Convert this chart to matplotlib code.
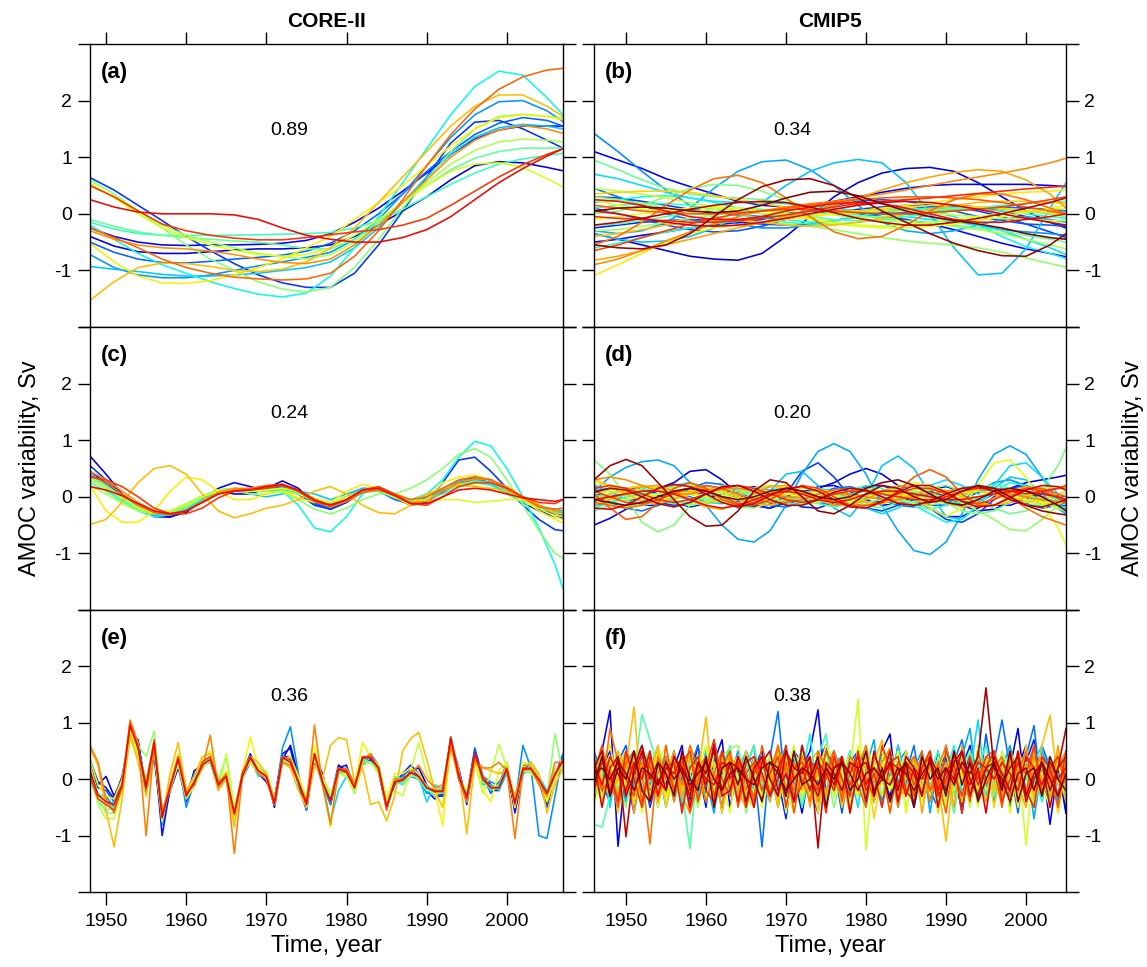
import matplotlib.pyplot as plt
import numpy as np

plt.rcParams['font.family'] = ['Liberation Sans', 'DejaVu Sans']

# ---- sampling years ----
core_years_a = [1948, 1951, 1954, 1957, 1960, 1963, 1966, 1969, 1972, 1975, 1978,
                1981, 1984, 1987, 1990, 1993, 1996, 1999, 2002, 2005, 2007]
cmip_years_b = [1946, 1949, 1952, 1955, 1958, 1961, 1964, 1967, 1970, 1973, 1976,
                1979, 1982, 1985, 1988, 1991, 1994, 1997, 2000, 2003, 2005]
core_years_c = list(range(1948, 2007, 2)) + [2007]
cmip_years_d = list(range(1946, 2005, 2)) + [2005]
core_years_e = list(range(1948, 2008))
cmip_years_f = list(range(1946, 2006))

# ---- (a) CORE-II low-pass (trend) ----
core_a = [
    [-0.40, -0.57, -0.67, -0.70, -0.70, -0.67, -0.64, -0.62, -0.62, -0.60, -0.55, -0.40, -0.20, 0.05, 0.30, 0.60, 0.85, 0.92, 0.90, 0.82, 0.76],
    [-0.25, -0.40, -0.50, -0.55, -0.56, -0.55, -0.55, -0.54, -0.52, -0.47, -0.35, -0.15, 0.10, 0.40, 0.72, 1.05, 1.32, 1.48, 1.55, 1.55, 1.55],
    [0.64, 0.42, 0.15, -0.12, -0.40, -0.65, -0.88, -1.08, -1.22, -1.30, -1.30, -1.05, -0.55, 0.05, 0.65, 1.25, 1.62, 1.65, 1.50, 1.30, 1.16],
    [-0.50, -0.68, -0.80, -0.86, -0.87, -0.84, -0.80, -0.77, -0.73, -0.66, -0.52, -0.30, 0.00, 0.35, 0.75, 1.10, 1.40, 1.60, 1.70, 1.65, 1.55],
    [-0.72, -0.95, -1.08, -1.13, -1.13, -1.08, -1.00, -0.92, -0.85, -0.77, -0.68, -0.45, -0.10, 0.35, 0.85, 1.35, 1.75, 1.98, 2.00, 1.82, 1.63],
    [-0.93, -0.98, -1.02, -1.07, -1.10, -1.10, -1.08, -1.05, -1.00, -0.95, -0.85, -0.60, -0.25, 0.20, 0.65, 1.05, 1.35, 1.52, 1.58, 1.55, 1.50],
    [-0.20, -0.45, -0.70, -0.90, -1.05, -1.20, -1.32, -1.42, -1.47, -1.40, -1.10, -0.60, -0.05, 0.55, 1.15, 1.75, 2.25, 2.52, 2.45, 2.05, 1.75],
    [-0.15, -0.27, -0.35, -0.38, -0.38, -0.38, -0.38, -0.37, -0.36, -0.35, -0.33, -0.25, -0.12, 0.08, 0.30, 0.52, 0.72, 0.88, 0.97, 1.03, 1.07],
    [-0.10, -0.22, -0.32, -0.38, -0.42, -0.45, -0.48, -0.50, -0.55, -0.62, -0.62, -0.45, -0.15, 0.20, 0.50, 0.78, 0.98, 1.10, 1.16, 1.16, 1.16],
    [0.60, 0.35, 0.05, -0.25, -0.55, -0.80, -1.00, -1.20, -1.33, -1.38, -1.30, -0.95, -0.45, 0.10, 0.60, 1.10, 1.50, 1.72, 1.76, 1.72, 1.69],
    [0.50, 0.30, 0.05, -0.20, -0.38, -0.50, -0.60, -0.70, -0.76, -0.80, -0.72, -0.50, -0.20, 0.20, 0.55, 0.88, 1.12, 1.27, 1.32, 1.30, 1.27],
    [0.55, 0.28, 0.00, -0.25, -0.42, -0.55, -0.65, -0.72, -0.75, -0.72, -0.60, -0.38, -0.10, 0.20, 0.50, 0.75, 0.88, 0.90, 0.82, 0.62, 0.48],
    [-0.52, -0.85, -1.10, -1.22, -1.23, -1.18, -1.08, -0.95, -0.80, -0.60, -0.40, -0.10, 0.20, 0.50, 0.85, 1.20, 1.50, 1.70, 1.75, 1.72, 1.66],
    [-1.53, -1.20, -0.95, -0.87, -0.88, -0.93, -1.00, -1.02, -0.98, -0.85, -0.60, -0.25, 0.20, 0.65, 1.10, 1.55, 1.90, 2.10, 2.10, 1.90, 1.72],
    [-0.30, -0.45, -0.55, -0.60, -0.62, -0.66, -0.72, -0.80, -0.86, -0.88, -0.80, -0.55, -0.20, 0.20, 0.60, 1.00, 1.30, 1.48, 1.56, 1.50, 1.42],
    [-0.25, -0.42, -0.60, -0.80, -0.95, -1.05, -1.12, -1.15, -1.17, -1.15, -1.05, -0.75, -0.30, 0.25, 0.85, 1.40, 1.85, 2.20, 2.42, 2.54, 2.57],
    [0.50, 0.30, 0.05, -0.18, -0.30, -0.38, -0.43, -0.46, -0.46, -0.42, -0.37, -0.32, -0.28, -0.20, -0.08, 0.15, 0.40, 0.65, 0.87, 1.05, 1.15],
    [0.25, 0.12, 0.03, 0.00, 0.00, 0.00, -0.02, -0.10, -0.25, -0.38, -0.45, -0.50, -0.50, -0.42, -0.28, -0.05, 0.25, 0.55, 0.80, 1.02, 1.15],
]

# ---- (b) CMIP5 low-pass (trend) ----
cmip_b = [
    [-0.35, -0.45, -0.55, -0.65, -0.75, -0.80, -0.82, -0.70, -0.40, -0.05, 0.30, 0.55, 0.72, 0.80, 0.82, 0.75, 0.55, 0.30, 0.05, -0.15, -0.25],
    [1.10, 0.95, 0.80, 0.62, 0.48, 0.35, 0.22, 0.15, 0.12, 0.15, 0.22, 0.30, 0.38, 0.45, 0.50, 0.52, 0.52, 0.52, 0.52, 0.50, 0.48],
    [-0.50, -0.45, -0.38, -0.32, -0.25, -0.20, -0.15, -0.10, -0.05, 0.00, 0.02, 0.00, -0.05, -0.10, -0.18, -0.28, -0.40, -0.52, -0.62, -0.70, -0.76],
    [-0.25, -0.20, -0.15, -0.12, -0.10, -0.12, -0.15, -0.18, -0.20, -0.18, -0.12, -0.05, 0.02, 0.08, 0.12, 0.15, 0.12, 0.05, -0.05, -0.15, -0.22],
    [0.30, 0.28, 0.22, 0.15, 0.08, 0.02, -0.02, -0.05, -0.05, -0.02, 0.02, 0.08, 0.12, 0.15, 0.15, 0.12, 0.05, -0.05, -0.18, -0.32, -0.42],
    [0.10, 0.00, -0.10, -0.20, -0.28, -0.32, -0.30, -0.22, -0.10, 0.05, 0.15, 0.22, 0.25, 0.22, 0.15, 0.05, -0.05, -0.12, -0.18, -0.20, -0.22],
    [0.45, 0.30, 0.15, 0.00, -0.10, -0.15, -0.12, -0.05, 0.02, 0.05, 0.05, 0.02, 0.00, 0.02, 0.05, 0.08, 0.10, 0.12, 0.10, 0.08, 0.05],
    [1.42, 1.10, 0.75, 0.42, 0.15, -0.05, -0.18, -0.25, -0.25, -0.20, -0.12, -0.05, 0.00, 0.00, -0.05, -0.12, -0.20, -0.28, -0.32, -0.35, -0.38],
    [-0.30, -0.35, -0.30, -0.15, 0.10, 0.45, 0.75, 0.92, 0.95, 0.78, 0.50, 0.15, -0.15, -0.30, -0.35, -0.30, -0.20, -0.10, -0.05, -0.10, -0.15],
    [-0.35, -0.45, -0.50, -0.48, -0.40, -0.25, -0.05, 0.20, 0.50, 0.75, 0.90, 0.96, 0.90, 0.55, 0.00, -0.60, -1.08, -1.05, -0.62, 0.10, 0.55],
    [0.70, 0.62, 0.50, 0.38, 0.28, 0.22, 0.20, 0.20, 0.18, 0.15, 0.10, 0.05, 0.00, -0.05, -0.10, -0.15, -0.20, -0.30, -0.45, -0.60, -0.72],
    [0.20, 0.25, 0.30, 0.32, 0.28, 0.20, 0.10, 0.00, -0.10, -0.15, -0.12, -0.05, 0.05, 0.10, 0.05, -0.05, -0.20, -0.40, -0.58, -0.70, -0.79],
    [-0.60, -0.52, -0.42, -0.32, -0.25, -0.18, -0.12, -0.08, -0.05, -0.02, 0.00, 0.02, 0.05, 0.08, 0.10, 0.10, 0.08, 0.05, 0.00, -0.05, -0.08],
    [0.10, 0.15, 0.18, 0.18, 0.15, 0.08, 0.00, -0.08, -0.15, -0.18, -0.18, -0.15, -0.10, -0.05, 0.00, 0.05, 0.10, 0.15, 0.18, 0.20, 0.22],
    [-0.20, -0.18, -0.12, -0.05, 0.02, 0.08, 0.10, 0.08, 0.02, -0.05, -0.10, -0.12, -0.10, -0.05, 0.02, 0.08, 0.12, 0.10, 0.05, 0.00, -0.05],
    [0.95, 0.78, 0.60, 0.45, 0.35, 0.30, 0.28, 0.25, 0.20, 0.12, 0.05, -0.02, -0.08, -0.12, -0.15, -0.20, -0.25, -0.30, -0.38, -0.45, -0.50],
    [0.00, 0.05, 0.15, 0.30, 0.45, 0.52, 0.50, 0.40, 0.25, 0.10, 0.00, -0.05, -0.05, 0.00, 0.05, 0.10, 0.12, 0.10, 0.05, 0.00, -0.05],
    [0.30, 0.25, 0.18, 0.10, 0.02, -0.05, -0.10, -0.15, -0.18, -0.22, -0.28, -0.35, -0.42, -0.48, -0.52, -0.55, -0.60, -0.68, -0.78, -0.88, -0.94],
    [-0.30, -0.28, -0.22, -0.15, -0.08, -0.02, 0.02, 0.05, 0.05, 0.02, -0.02, -0.08, -0.12, -0.15, -0.18, -0.22, -0.28, -0.35, -0.45, -0.55, -0.62],
    [0.45, 0.40, 0.35, 0.28, 0.20, 0.12, 0.05, 0.00, -0.02, -0.02, 0.00, 0.02, 0.05, 0.05, 0.02, -0.02, -0.05, -0.08, -0.10, -0.12, -0.12],
    [0.25, 0.15, 0.08, 0.05, 0.05, 0.08, 0.10, 0.05, 0.00, -0.08, -0.15, -0.20, -0.22, -0.20, -0.15, -0.10, -0.05, 0.00, 0.05, 0.08, 0.10],
    [-0.10, -0.05, 0.00, 0.05, 0.10, 0.12, 0.10, 0.05, -0.02, -0.10, -0.18, -0.22, -0.25, -0.25, -0.22, -0.18, -0.12, -0.05, 0.02, 0.10, 0.15],
    [-1.09, -0.90, -0.70, -0.50, -0.35, -0.25, -0.20, -0.15, -0.10, -0.05, 0.00, 0.05, 0.10, 0.15, 0.20, 0.25, 0.30, 0.35, 0.38, 0.40, 0.42],
    [0.35, 0.38, 0.40, 0.40, 0.38, 0.32, 0.25, 0.18, 0.12, 0.08, 0.05, 0.05, 0.08, 0.12, 0.15, 0.15, 0.12, 0.08, 0.05, 0.02, 0.00],
    [-0.40, -0.35, -0.28, -0.20, -0.15, -0.12, -0.12, -0.15, -0.20, -0.22, -0.20, -0.15, -0.08, 0.00, 0.08, 0.15, 0.20, 0.22, 0.22, 0.20, 0.18],
    [-0.82, -0.75, -0.65, -0.55, -0.45, -0.35, -0.25, -0.15, -0.05, 0.05, 0.15, 0.28, 0.42, 0.55, 0.65, 0.73, 0.78, 0.75, 0.60, 0.35, 0.10],
    [-0.90, -0.80, -0.65, -0.48, -0.32, -0.18, -0.05, 0.05, 0.12, 0.18, 0.22, 0.28, 0.35, 0.42, 0.50, 0.58, 0.65, 0.72, 0.80, 0.90, 0.98],
    [-0.55, -0.40, -0.15, 0.15, 0.42, 0.62, 0.68, 0.55, 0.28, -0.05, -0.32, -0.44, -0.40, -0.20, 0.05, 0.25, 0.35, 0.35, 0.25, 0.10, 0.00],
    [0.15, 0.10, 0.05, 0.02, 0.00, 0.00, 0.02, 0.05, 0.10, 0.15, 0.20, 0.25, 0.28, 0.30, 0.30, 0.28, 0.25, 0.20, 0.12, 0.05, 0.00],
    [-0.65, -0.55, -0.42, -0.30, -0.18, -0.08, 0.00, 0.05, 0.08, 0.08, 0.05, 0.02, 0.00, 0.00, 0.02, 0.05, 0.08, 0.12, 0.18, 0.25, 0.30],
    [-0.05, -0.08, -0.10, -0.12, -0.15, -0.15, -0.12, -0.08, -0.02, 0.05, 0.12, 0.18, 0.22, 0.25, 0.28, 0.32, 0.36, 0.40, 0.44, 0.47, 0.49],
    [0.25, 0.22, 0.15, 0.05, -0.05, -0.10, -0.10, -0.05, 0.05, 0.12, 0.18, 0.20, 0.18, 0.10, 0.00, -0.10, -0.15, -0.15, -0.10, -0.05, 0.00],
    [0.05, 0.00, -0.08, -0.15, -0.20, -0.22, -0.20, -0.15, -0.08, 0.00, 0.08, 0.15, 0.20, 0.22, 0.20, 0.15, 0.08, 0.00, -0.08, -0.15, -0.20],
    [-0.20, -0.15, -0.08, 0.00, 0.08, 0.15, 0.20, 0.22, 0.20, 0.12, 0.02, -0.08, -0.15, -0.20, -0.20, -0.15, -0.08, 0.00, 0.10, 0.20, 0.28],
    [-0.55, -0.60, -0.62, -0.55, -0.35, -0.05, 0.25, 0.48, 0.60, 0.62, 0.50, 0.28, 0.05, -0.15, -0.35, -0.52, -0.65, -0.74, -0.75, -0.55, -0.35],
    [0.05, 0.10, 0.12, 0.10, 0.05, 0.02, 0.05, 0.15, 0.28, 0.38, 0.40, 0.32, 0.18, 0.05, -0.05, -0.12, -0.18, -0.25, -0.35, -0.42, -0.45],
]

# ---- (c) CORE-II band-pass (decadal) ----
core_c = [
    [0.72, 0.40, 0.05, -0.22, -0.33, -0.35, -0.28, -0.05, 0.10, 0.05, 0.05, 0.15, 0.28, 0.15, -0.12, -0.22, -0.10, 0.10, 0.15, 0.00, -0.12, -0.05, 0.10, 0.25, 0.30, 0.25, 0.10, -0.10, -0.25, -0.35, -0.38],
    [0.45, 0.25, 0.00, -0.20, -0.35, -0.36, -0.25, -0.05, 0.15, 0.25, 0.18, 0.10, 0.12, 0.05, -0.10, -0.18, -0.08, 0.08, 0.12, 0.02, -0.10, -0.08, 0.08, 0.25, 0.35, 0.30, 0.15, -0.05, -0.20, -0.30, -0.32],
    [0.55, 0.30, 0.05, -0.18, -0.30, -0.32, -0.22, -0.05, 0.08, 0.12, 0.12, 0.15, 0.18, 0.05, -0.15, -0.22, -0.08, 0.10, 0.12, -0.02, -0.15, -0.10, 0.25, 0.65, 0.70, 0.45, 0.15, -0.15, -0.40, -0.58, -0.60],
    [0.40, 0.22, 0.00, -0.20, -0.32, -0.30, -0.18, 0.00, 0.10, 0.10, 0.08, 0.12, 0.15, 0.05, -0.12, -0.20, -0.05, 0.12, 0.10, -0.05, -0.12, -0.05, 0.10, 0.22, 0.28, 0.22, 0.10, -0.08, -0.22, -0.30, -0.32],
    [0.30, 0.15, -0.05, -0.22, -0.30, -0.28, -0.15, 0.00, 0.08, 0.12, 0.10, 0.12, 0.18, 0.10, -0.05, -0.12, 0.00, 0.15, 0.12, 0.00, -0.10, -0.05, 0.12, 0.28, 0.32, 0.25, 0.10, -0.08, -0.20, -0.25, -0.28],
    [0.35, 0.20, 0.00, -0.20, -0.32, -0.32, -0.22, -0.05, 0.08, 0.12, 0.05, 0.00, 0.05, 0.10, 0.05, -0.05, 0.05, 0.15, 0.15, 0.00, -0.08, -0.02, 0.15, 0.28, 0.30, 0.22, 0.08, -0.08, -0.18, -0.22, -0.25],
    [0.40, 0.20, -0.05, -0.25, -0.35, -0.32, -0.20, -0.05, 0.08, 0.12, 0.12, 0.15, 0.10, -0.15, -0.55, -0.62, -0.35, 0.05, 0.18, 0.05, -0.05, 0.05, 0.30, 0.70, 0.98, 0.90, 0.50, 0.00, -0.55, -1.20, -1.62],
    [0.25, 0.10, -0.08, -0.22, -0.30, -0.30, -0.20, -0.02, 0.12, 0.15, 0.12, 0.12, 0.12, 0.05, -0.08, -0.15, -0.05, 0.10, 0.12, 0.02, -0.08, -0.05, 0.05, 0.18, 0.25, 0.20, 0.05, -0.10, -0.20, -0.25, -0.28],
    [0.30, 0.15, -0.05, -0.22, -0.28, -0.25, -0.15, 0.00, 0.10, 0.12, 0.10, 0.12, 0.15, 0.08, -0.08, -0.18, -0.08, 0.08, 0.10, -0.02, -0.10, -0.05, 0.10, 0.22, 0.28, 0.25, 0.10, -0.05, -0.18, -0.28, -0.30],
    [0.35, 0.20, 0.00, -0.18, -0.28, -0.28, -0.18, 0.00, 0.12, 0.15, 0.10, 0.10, 0.08, -0.05, -0.22, -0.30, -0.20, -0.05, 0.05, 0.05, 0.15, 0.30, 0.50, 0.75, 0.85, 0.70, 0.30, -0.15, -0.60, -1.00, -1.08],
    [0.20, 0.05, -0.12, -0.25, -0.30, -0.25, -0.12, 0.02, 0.12, 0.12, 0.05, 0.05, 0.10, 0.05, -0.05, -0.10, 0.00, 0.12, 0.15, 0.05, -0.05, 0.02, 0.15, 0.22, 0.20, 0.12, 0.05, -0.05, -0.15, -0.25, -0.28],
    [0.30, 0.15, -0.02, -0.20, -0.28, -0.25, -0.15, 0.00, 0.10, 0.12, 0.10, 0.12, 0.15, 0.10, -0.02, -0.10, -0.02, 0.10, 0.12, 0.05, -0.05, -0.08, -0.05, -0.05, -0.10, -0.08, -0.05, -0.05, -0.20, -0.35, -0.40],
    [0.20, -0.25, -0.45, -0.45, -0.25, 0.10, 0.35, 0.30, 0.10, -0.05, -0.05, 0.05, 0.10, -0.02, -0.10, -0.10, 0.10, 0.22, 0.15, 0.00, -0.15, -0.05, 0.25, 0.35, 0.38, 0.30, 0.15, -0.05, -0.25, -0.40, -0.45],
    [-0.49, -0.40, -0.10, 0.25, 0.50, 0.55, 0.40, 0.05, -0.25, -0.37, -0.30, -0.20, -0.15, -0.05, 0.10, 0.18, 0.05, -0.15, -0.28, -0.30, -0.15, 0.05, 0.15, 0.20, 0.18, 0.15, 0.10, 0.00, -0.15, -0.30, -0.35],
    [0.45, 0.30, 0.10, -0.10, -0.25, -0.30, -0.25, -0.08, 0.08, 0.15, 0.15, 0.18, 0.20, 0.10, -0.05, -0.15, -0.05, 0.10, 0.12, 0.02, -0.10, -0.08, 0.10, 0.25, 0.32, 0.30, 0.18, 0.00, -0.15, -0.25, -0.28],
    [0.38, 0.25, 0.05, -0.15, -0.28, -0.32, -0.25, -0.10, 0.05, 0.12, 0.15, 0.20, 0.22, 0.10, -0.08, -0.18, -0.08, 0.08, 0.12, 0.05, -0.05, 0.00, 0.15, 0.30, 0.35, 0.30, 0.15, -0.02, -0.18, -0.22, -0.20],
    [0.35, 0.30, 0.18, 0.00, -0.20, -0.30, -0.30, -0.20, -0.02, 0.10, 0.12, 0.15, 0.20, 0.10, -0.08, -0.15, -0.05, 0.12, 0.18, 0.05, -0.12, -0.15, 0.00, 0.18, 0.25, 0.25, 0.15, 0.00, -0.10, -0.12, -0.05],
    [0.18, 0.12, 0.02, -0.12, -0.25, -0.30, -0.25, -0.10, 0.05, 0.10, 0.12, 0.18, 0.22, 0.12, -0.05, -0.15, -0.05, 0.12, 0.15, 0.02, -0.12, -0.12, 0.00, 0.12, 0.15, 0.12, 0.05, -0.02, -0.05, -0.08, -0.05],
]

# ---- (d) CMIP5 band-pass (decadal) ----
cmip_d = [
    [-0.10, 0.00, 0.05, 0.10, 0.15, 0.25, 0.45, 0.48, 0.30, 0.05, -0.15, -0.20, -0.10, 0.05, 0.15, 0.25, 0.40, 0.50, 0.40, 0.20, 0.00, -0.20, -0.35, -0.35, -0.20, 0.00, 0.15, 0.25, 0.30, 0.35, 0.38],
    [-0.50, -0.38, -0.22, -0.08, 0.02, 0.08, 0.10, 0.05, -0.05, -0.15, -0.18, -0.12, 0.00, 0.10, 0.12, 0.05, -0.05, -0.10, -0.08, 0.00, 0.08, 0.10, 0.00, -0.15, -0.25, -0.22, -0.10, 0.00, 0.05, 0.02, -0.02],
    [0.20, 0.10, -0.05, -0.15, -0.15, -0.05, 0.10, 0.20, 0.15, 0.00, -0.15, -0.20, -0.10, 0.05, 0.18, 0.20, 0.10, -0.05, -0.15, -0.12, 0.00, 0.12, 0.18, 0.10, -0.05, -0.15, -0.15, -0.05, 0.08, 0.15, 0.15],
    [-0.10, 0.05, 0.15, 0.15, 0.05, -0.10, -0.18, -0.12, 0.00, 0.12, 0.18, 0.10, -0.05, -0.18, -0.20, -0.10, 0.05, 0.18, 0.20, 0.10, -0.05, -0.15, -0.15, -0.05, 0.08, 0.15, 0.12, 0.00, -0.12, -0.18, -0.15],
    [0.10, 0.15, 0.10, 0.00, -0.10, -0.15, -0.10, 0.00, 0.05, 0.00, -0.15, -0.20, 0.05, 0.45, 0.60, 0.35, 0.00, -0.20, -0.25, -0.15, -0.05, -0.20, -0.40, -0.45, -0.30, -0.05, 0.15, 0.20, 0.10, -0.05, -0.10],
    [0.05, 0.00, -0.05, -0.05, 0.00, 0.10, 0.15, 0.10, 0.00, -0.08, -0.05, 0.05, 0.12, 0.10, 0.00, -0.10, -0.12, -0.05, 0.05, 0.15, 0.20, 0.10, -0.05, -0.15, -0.10, 0.05, 0.15, 0.10, -0.05, -0.20, -0.30],
    [0.00, -0.10, -0.20, -0.25, -0.15, 0.00, 0.15, 0.25, 0.22, 0.10, -0.05, -0.15, -0.18, -0.10, 0.05, 0.15, 0.18, 0.10, -0.05, -0.15, -0.18, -0.10, 0.05, 0.15, 0.20, 0.12, 0.00, -0.12, -0.20, -0.15, -0.10],
    [-0.15, -0.10, 0.00, 0.10, 0.15, 0.10, 0.00, -0.10, -0.12, -0.05, 0.05, 0.12, 0.10, 0.00, -0.10, -0.15, -0.10, 0.00, 0.10, 0.15, 0.10, 0.00, -0.10, -0.05, 0.10, 0.25, 0.30, 0.20, 0.00, -0.15, -0.20],
    [0.10, 0.35, 0.52, 0.62, 0.65, 0.55, 0.25, -0.15, -0.50, -0.75, -0.80, -0.60, -0.15, 0.40, 0.80, 0.94, 0.80, 0.40, -0.15, -0.60, -0.95, -1.02, -0.80, -0.30, 0.30, 0.75, 0.90, 0.75, 0.35, -0.10, -0.25],
    [0.00, -0.15, -0.20, -0.10, 0.05, 0.20, 0.25, 0.15, -0.05, -0.20, -0.15, 0.10, 0.40, 0.45, 0.20, -0.20, -0.35, 0.00, 0.55, 0.72, 0.50, 0.05, -0.35, -0.40, -0.15, 0.15, 0.35, 0.30, 0.05, -0.20, -0.30],
    [0.20, 0.10, -0.05, -0.15, -0.10, 0.00, 0.10, 0.15, 0.10, 0.00, -0.10, -0.15, -0.10, 0.05, 0.15, 0.10, -0.05, -0.20, -0.30, -0.20, 0.00, 0.20, 0.30, 0.20, 0.05, 0.20, 0.55, 0.60, 0.35, 0.05, -0.10],
    [-0.20, -0.10, 0.00, 0.05, 0.05, 0.00, -0.05, -0.05, 0.00, 0.05, 0.10, 0.08, 0.00, -0.08, -0.10, -0.05, 0.05, 0.10, 0.05, -0.05, -0.15, -0.30, -0.45, -0.40, -0.15, 0.10, 0.25, 0.20, 0.05, -0.05, -0.10],
    [0.00, 0.05, 0.10, 0.08, 0.00, -0.10, -0.15, -0.10, 0.00, 0.10, 0.15, 0.10, 0.00, -0.08, -0.10, 0.00, 0.10, 0.12, 0.05, -0.05, -0.10, -0.05, 0.05, 0.15, 0.20, 0.10, -0.05, -0.15, -0.15, -0.05, 0.00],
    [0.15, 0.20, 0.15, 0.05, -0.05, -0.12, -0.10, 0.00, 0.10, 0.15, 0.10, 0.00, -0.10, -0.15, -0.10, 0.00, 0.12, 0.20, 0.15, 0.00, -0.15, -0.22, -0.15, 0.00, 0.15, 0.22, 0.15, 0.00, -0.12, -0.18, -0.18],
    [-0.25, -0.15, 0.00, 0.12, 0.15, 0.08, -0.05, -0.12, -0.10, 0.00, 0.12, 0.18, 0.12, 0.00, -0.12, -0.18, -0.12, 0.00, 0.12, 0.15, 0.08, -0.05, -0.12, -0.10, 0.00, 0.10, 0.12, 0.05, -0.05, -0.08, -0.05],
    [0.10, 0.00, -0.10, -0.15, -0.10, 0.00, 0.10, 0.15, 0.10, 0.00, -0.08, -0.10, -0.05, 0.05, 0.10, 0.05, -0.05, -0.15, -0.20, -0.10, 0.05, 0.15, 0.20, 0.10, -0.05, -0.20, -0.30, -0.25, -0.10, 0.00, 0.05],
    [0.65, 0.40, 0.00, -0.45, -0.62, -0.50, -0.15, 0.10, 0.20, 0.15, 0.00, -0.10, -0.05, 0.05, 0.10, 0.05, -0.05, -0.10, -0.05, 0.05, 0.10, 0.05, -0.10, -0.25, -0.30, -0.25, -0.10, 0.00, 0.15, 0.55, 0.86],
    [-0.10, -0.05, 0.05, 0.15, 0.20, 0.15, 0.05, -0.05, -0.10, -0.05, 0.05, 0.10, 0.10, 0.05, 0.00, -0.05, -0.05, 0.00, 0.05, 0.10, 0.10, 0.05, 0.00, -0.10, -0.25, -0.40, -0.58, -0.60, -0.40, -0.15, 0.00],
    [0.05, 0.12, 0.15, 0.10, 0.00, -0.10, -0.15, -0.10, 0.02, 0.12, 0.15, 0.08, -0.05, -0.12, -0.10, 0.00, 0.10, 0.15, 0.10, -0.02, -0.12, -0.15, -0.08, 0.05, 0.15, 0.15, 0.05, -0.08, -0.15, -0.12, -0.08],
    [-0.05, -0.15, -0.18, -0.10, 0.05, 0.18, 0.22, 0.12, -0.05, -0.18, -0.20, -0.10, 0.05, 0.15, 0.15, 0.05, -0.08, -0.15, -0.12, 0.00, 0.12, 0.18, 0.12, 0.00, -0.12, -0.15, -0.08, 0.05, 0.15, 0.18, 0.15],
    [0.05, 0.10, 0.05, -0.05, -0.10, -0.05, 0.05, 0.10, 0.05, -0.05, -0.10, -0.05, 0.05, 0.10, 0.05, -0.05, -0.10, -0.05, 0.05, 0.15, 0.25, 0.20, 0.05, -0.05, 0.00, 0.10, 0.15, 0.05, -0.10, -0.20, -0.25],
    [0.00, -0.05, -0.05, 0.00, 0.05, 0.10, 0.05, 0.00, -0.05, -0.05, 0.00, 0.05, 0.05, 0.00, -0.05, -0.08, -0.05, 0.00, 0.05, 0.10, 0.00, -0.20, -0.35, -0.20, 0.20, 0.60, 0.65, 0.35, -0.10, -0.55, -0.85],
    [0.25, 0.20, 0.10, 0.00, -0.05, 0.00, 0.10, 0.15, 0.10, 0.00, -0.05, 0.00, 0.05, 0.05, 0.00, -0.05, 0.00, 0.05, 0.10, 0.05, 0.00, -0.05, 0.00, 0.05, 0.10, 0.05, 0.00, -0.05, -0.10, -0.10, -0.10],
    [-0.05, 0.05, 0.15, 0.20, 0.15, 0.05, -0.05, -0.10, -0.05, 0.05, 0.15, 0.20, 0.15, 0.05, -0.05, -0.10, -0.05, 0.05, 0.10, 0.05, -0.05, -0.10, -0.05, 0.05, 0.10, 0.05, -0.05, -0.10, -0.05, 0.05, 0.10],
    [0.30, 0.20, 0.05, -0.08, -0.12, -0.05, 0.08, 0.15, 0.12, 0.00, -0.12, -0.15, -0.08, 0.05, 0.12, 0.10, 0.00, -0.10, -0.12, -0.05, 0.05, 0.12, 0.10, 0.00, -0.10, -0.15, -0.10, 0.00, 0.10, 0.15, 0.18],
    [-0.15, -0.05, 0.08, 0.18, 0.20, 0.10, -0.05, -0.18, -0.22, -0.12, 0.05, 0.18, 0.20, 0.10, -0.05, -0.15, -0.15, -0.05, 0.10, 0.20, 0.18, 0.05, -0.10, -0.18, -0.15, -0.02, 0.12, 0.18, 0.12, 0.00, -0.05],
    [0.30, 0.35, 0.30, 0.20, 0.10, 0.05, 0.05, 0.10, 0.15, 0.15, 0.10, 0.05, 0.00, -0.02, 0.00, 0.05, 0.05, 0.00, -0.05, -0.05, 0.00, 0.05, 0.10, 0.15, 0.15, 0.10, 0.05, 0.00, -0.05, -0.08, -0.10],
    [-0.10, -0.15, -0.20, -0.15, -0.05, 0.05, 0.15, 0.20, 0.15, 0.05, -0.05, -0.10, -0.10, -0.05, 0.05, 0.12, 0.15, 0.10, 0.00, -0.10, -0.15, -0.10, 0.00, 0.10, 0.20, 0.15, 0.00, -0.20, -0.35, -0.45, -0.50],
    [0.05, -0.20, -0.40, -0.35, -0.10, 0.15, 0.25, 0.15, -0.05, -0.15, -0.10, 0.05, 0.15, 0.10, 0.00, -0.10, -0.15, -0.15, -0.10, 0.10, 0.35, 0.48, 0.35, 0.05, -0.15, -0.15, 0.00, 0.15, 0.15, 0.05, 0.00],
    [0.10, 0.00, -0.10, -0.12, -0.05, 0.08, 0.15, 0.12, 0.00, -0.12, -0.15, -0.05, 0.10, 0.20, 0.15, 0.00, -0.15, -0.20, -0.10, 0.05, 0.15, 0.15, 0.05, -0.08, -0.12, -0.05, 0.08, 0.15, 0.10, -0.02, -0.10],
    [0.15, 0.20, 0.15, 0.05, -0.05, -0.10, -0.05, 0.05, 0.15, 0.20, 0.15, 0.05, -0.05, -0.10, -0.05, 0.05, 0.10, 0.10, 0.05, 0.00, -0.05, -0.05, 0.00, 0.10, 0.15, 0.15, 0.10, 0.05, 0.10, 0.15, 0.20],
    [-0.05, 0.00, 0.05, 0.10, 0.10, 0.05, -0.05, -0.15, -0.20, -0.15, -0.05, 0.05, 0.10, 0.05, -0.05, -0.10, -0.05, 0.05, 0.10, 0.10, 0.05, 0.00, -0.05, -0.05, 0.00, 0.05, 0.10, 0.10, 0.05, 0.00, -0.05],
    [-0.20, -0.22, -0.15, 0.00, 0.15, 0.22, 0.18, 0.05, -0.10, -0.18, -0.12, 0.02, 0.15, 0.18, 0.10, -0.05, -0.18, -0.20, -0.08, 0.08, 0.20, 0.20, 0.08, -0.08, -0.18, -0.15, -0.02, 0.12, 0.20, 0.18, 0.12],
    [0.08, 0.15, 0.12, 0.00, -0.12, -0.18, -0.10, 0.05, 0.18, 0.20, 0.10, -0.05, -0.15, -0.15, -0.05, 0.08, 0.15, 0.12, 0.00, -0.12, -0.15, -0.08, 0.05, 0.15, 0.18, 0.10, -0.05, -0.15, -0.18, -0.10, -0.05],
    [0.30, 0.55, 0.66, 0.55, 0.25, -0.05, -0.35, -0.52, -0.50, -0.25, 0.10, 0.30, 0.25, 0.00, -0.25, -0.30, -0.15, 0.05, 0.20, 0.15, 0.00, -0.10, -0.05, 0.10, 0.20, 0.15, 0.00, -0.15, -0.25, -0.30, -0.32],
    [-0.05, -0.10, -0.15, -0.10, 0.00, 0.10, 0.15, 0.10, 0.00, -0.05, 0.00, 0.10, 0.15, 0.10, 0.00, -0.05, 0.00, 0.15, 0.25, 0.30, 0.20, 0.05, -0.10, -0.15, -0.05, 0.10, 0.15, 0.10, 0.00, -0.15, -0.25],
]

# ---- (e) CORE-II high-pass (interannual), 1948-2007 ----
core_e = [
    [0.30, -0.10, 0.05, -0.30, 0.00, 0.75, 0.65, -0.20, 0.40, -0.80,
     -0.20, 0.20, -0.35, 0.15, 0.25, 0.30, -0.05, 0.10, -0.55, 0.00,
     0.35, 0.20, 0.10, -0.50, 0.35, 0.60, 0.05, -0.40, 0.30, 0.05,
     -0.35, 0.25, 0.15, -0.10, 0.30, 0.30, 0.15, -0.40, 0.00, -0.05,
     0.15, 0.20, -0.10, -0.30, -0.30, 0.75, 0.00, -0.30, 0.50, 0.05,
     -0.10, -0.20, 0.20, -0.50, 0.25, 0.25, 0.05, -0.35, 0.00, 0.40],
    [0.35, -0.05, -0.15, -0.35, 0.05, 0.80, 0.70, -0.25, 0.55, -1.00,
     -0.15, 0.30, -0.40, 0.00, 0.30, 0.40, 0.00, 0.05, -0.65, 0.10,
     0.45, 0.10, -0.05, -0.35, 0.45, 0.55, -0.10, -0.55, 0.40, 0.10,
     -0.45, 0.20, 0.25, -0.20, 0.25, 0.35, 0.10, -0.50, -0.10, 0.10,
     0.25, 0.10, -0.20, -0.35, -0.25, 0.65, 0.20, -0.45, 0.40, 0.00,
     -0.20, -0.20, 0.25, -0.60, 0.10, 0.20, 0.00, -0.45, 0.05, 0.45],
    [0.20, -0.15, -0.20, -0.40, -0.05, 0.85, 0.60, -0.10, 0.45, -0.75,
     -0.05, 0.25, -0.30, 0.10, 0.20, 0.35, -0.15, 0.00, -0.70, 0.05,
     0.40, 0.15, 0.00, -0.40, 0.40, 0.40, 0.00, -0.50, 0.45, 0.00,
     -0.40, 0.15, 0.20, -0.10, 0.40, 0.30, 0.20, -0.55, 0.00, 0.05,
     0.20, 0.05, -0.10, -0.25, -0.30, 0.70, 0.10, -0.30, 0.55, 0.05,
     -0.25, -0.05, 0.10, -0.50, 0.15, 0.30, -0.05, -0.50, 0.10, 0.25],
    [0.10, -0.30, -0.30, -0.50, -0.10, 0.80, 0.50, -0.20, 0.50, -0.80,
     -0.10, 0.35, -0.50, -0.05, 0.20, 0.40, -0.10, 0.10, -0.60, 0.00,
     0.30, 0.20, 0.00, -0.45, 0.55, 0.93, 0.10, -0.55, 0.35, -0.10,
     -0.45, 0.10, 0.15, -0.25, 0.35, 0.45, 0.25, -0.45, -0.05, 0.05,
     0.05, 0.00, -0.25, -0.20, -0.15, 0.70, 0.00, -0.40, 0.35, 0.05,
     -0.05, -0.10, 0.30, -0.45, 0.60, 0.20, -1.00, -1.05, -0.30, 0.45],
    [0.05, -0.35, -0.45, -0.40, -0.15, 0.90, 0.45, 0.00, 0.60, -0.60,
     -0.15, 0.30, -0.25, 0.05, 0.30, 0.30, -0.20, 0.05, -0.55, 0.10,
     0.35, 0.05, 0.10, -0.35, 0.35, 0.35, -0.10, -0.40, 0.40, -0.05,
     -0.75, -0.20, 0.05, -0.15, 0.30, 0.40, 0.15, -0.35, 0.00, -0.10,
     0.10, 0.05, -0.40, -0.10, -0.20, 0.60, 0.05, -0.25, 0.35, -0.10,
     -0.10, -0.20, 0.10, -0.40, 0.10, 0.15, 0.05, -0.20, 0.05, 0.30],
    [0.20, -0.25, -0.35, -0.55, -0.05, 0.85, 0.55, -0.10, 0.55, -0.65,
     -0.05, 0.30, -0.30, 0.00, 0.25, 0.40, -0.05, 0.00, -0.55, 0.05,
     0.40, 0.15, 0.05, -0.45, 0.40, 0.30, 0.00, -0.50, 0.40, -0.10,
     -0.30, 0.20, 0.10, -0.20, 0.35, 0.40, 0.20, -0.45, 0.05, 0.00,
     0.10, 0.00, -0.20, -0.20, -0.15, 0.70, 0.10, -0.35, 0.40, 0.00,
     -0.20, -0.10, 0.15, -0.45, 0.20, 0.15, 0.05, -0.30, 0.10, 0.25],
    [0.00, -0.40, -0.55, -0.50, -0.15, 0.90, 0.50, -0.05, 0.60, -0.60,
     -0.10, 0.35, -0.25, 0.05, 0.25, 0.30, -0.15, 0.10, -0.60, 0.00,
     0.40, 0.10, 0.05, -0.40, 0.30, 0.30, 0.00, -0.50, 0.45, -0.05,
     -0.30, 0.15, 0.10, -0.15, 0.35, 0.30, 0.15, -0.45, -0.05, -0.10,
     0.05, 0.05, -0.20, -0.25, -0.25, 0.70, 0.00, -0.20, 0.40, -0.05,
     -0.15, -0.10, 0.20, -0.40, 0.25, 0.30, 0.05, -0.30, 0.10, 0.25],
    [0.25, -0.30, -0.60, -0.60, -0.20, 0.80, 0.60, 0.40, 0.85, -0.50,
     -0.20, 0.30, -0.30, -0.15, 0.20, 0.40, 0.00, 0.40, -0.55, 0.00,
     0.35, 0.20, 0.10, -0.45, 0.35, 0.20, 0.00, -0.30, 0.35, 0.00,
     -0.30, 0.10, 0.10, -0.20, 0.30, 0.30, 0.10, -0.40, 0.00, -0.05,
     0.10, 0.00, -0.10, -0.30, -0.20, 0.75, 0.05, -0.35, 0.35, 0.05,
     -0.15, -0.15, 0.25, -0.50, 0.15, 0.15, -0.10, -0.30, 0.80, 0.10],
    [0.25, -0.45, -0.70, -0.70, -0.20, 0.70, 0.40, 0.00, 0.55, -0.55,
     -0.15, 0.25, -0.35, -0.10, 0.20, 0.35, -0.20, 0.45, -0.50, 0.10,
     0.30, 0.10, 0.15, -0.35, 0.30, 0.25, 0.05, -0.40, 0.40, 0.05,
     -0.25, 0.10, 0.05, -0.25, 0.25, 0.30, 0.10, -0.35, -0.20, -0.30,
     0.15, 0.65, 0.10, -0.15, -0.20, 0.55, 0.00, -0.20, 0.30, -0.25,
     0.10, 0.62, 0.20, -0.35, 0.15, 0.10, -0.05, -0.35, 0.20, 0.20],
    [0.35, -0.10, -0.30, -0.35, 0.00, 0.85, 0.45, -0.05, 0.60, -0.75,
     -0.05, 0.45, -0.30, 0.05, 0.35, 0.50, -0.05, 0.15, -0.70, 0.10,
     0.75, 0.20, 0.00, -0.40, 0.35, 0.40, 0.05, -0.35, 0.60, -0.10,
     -0.85, 0.20, 0.10, -0.10, 0.65, 0.40, 0.25, -0.35, 0.10, 0.10,
     0.20, 0.10, -0.15, -0.20, -0.82, 0.65, 0.10, -0.40, 0.40, -0.20,
     -0.40, 0.15, 0.30, -0.50, 0.30, 0.25, 0.00, -0.40, 0.00, 0.30],
    [0.55, 0.25, -0.55, -1.20, -0.35, 0.80, 0.30, -0.30, 0.50, -0.70,
     0.10, 0.65, -0.20, 0.05, 0.40, 0.45, -0.20, 0.00, -0.85, 0.15,
     0.40, 0.30, 0.10, -0.35, 0.30, 0.20, -0.20, -0.50, 0.25, 0.00,
     0.60, 0.74, 0.70, -0.05, 0.20, -0.45, -0.40, -0.74, -0.30, 0.50,
     0.72, 0.83, 0.35, -0.20, -0.50, 0.55, 0.20, -0.97, 0.30, 0.20,
     0.15, 0.10, 0.15, -0.30, 0.20, 0.30, 0.10, -0.60, -0.10, 0.20],
    [0.60, 0.30, -0.35, -0.60, -0.10, 1.05, 0.65, -1.00, 0.60, -0.55,
     -0.20, 0.40, -0.25, -0.05, 0.20, 0.78, -0.15, 0.10, -1.32, 0.05,
     0.40, 0.10, 0.00, -0.45, 0.30, 0.25, -0.05, -0.45, 0.96, -0.10,
     -0.80, 0.15, 0.20, -0.10, 0.35, 0.45, 0.15, -0.55, 0.00, 0.00,
     0.10, 0.25, 0.00, -0.15, -0.10, 0.60, 0.00, -0.40, 0.35, 0.20,
     0.20, 0.30, 0.15, -1.05, 0.15, 0.20, -0.10, -0.30, 0.30, 0.30],
    [0.05, -0.35, -0.45, -0.55, -0.15, 1.00, 0.55, -0.10, 0.70, -0.65,
     -0.15, 0.40, -0.25, -0.10, 0.30, 0.40, -0.05, 0.05, -0.60, 0.10,
     0.40, 0.15, 0.05, -0.45, 0.40, 0.35, -0.05, -0.40, 0.45, -0.05,
     -0.40, 0.20, 0.15, -0.15, 0.40, 0.40, 0.20, -0.50, -0.05, 0.00,
     0.12, 0.05, -0.15, -0.20, -0.20, 0.75, 0.10, -0.35, 0.45, 0.05,
     -0.15, -0.15, 0.20, -0.45, 0.20, 0.20, 0.00, -0.25, 0.10, 0.35],
    [0.15, -0.28, -0.40, -0.45, -0.10, 0.95, 0.55, -0.15, 0.65, -0.68,
     -0.12, 0.35, -0.30, -0.05, 0.25, 0.35, -0.10, 0.05, -0.62, 0.05,
     0.38, 0.15, 0.05, -0.42, 0.38, 0.30, -0.05, -0.45, 0.45, -0.05,
     -0.38, 0.18, 0.12, -0.15, 0.38, 0.38, 0.20, -0.48, -0.05, -0.02,
     0.12, 0.05, -0.15, -0.22, -0.22, 0.72, 0.05, -0.32, 0.45, 0.00,
     -0.15, -0.15, 0.18, -0.42, 0.18, 0.18, -0.02, -0.25, 0.08, 0.32],
]

# ---- (f) CMIP5 high-pass (interannual), 1946-2005 ----
cmip_f = [
    [0.3, -0.2, 0.1, 0.4, -0.3, 0.2, -0.5, 0.1, 0.3, -0.1, 0.5, -0.2, 0.0, 0.6, -0.4, 0.2, 0.3, -0.3, 0.1, -0.2,
     0.4, -0.1, 0.2, -0.4, 0.3, 0.1, -0.6, 0.2, 0.0, 0.3, -0.2, 0.1, 0.4, -0.3, 0.2, -0.1, 0.5, 0.8, -0.4, 0.1,
     0.2, -0.3, 0.4, -0.1, 0.6, 0.0, -0.5, 0.3, 0.1, -0.2, 0.3, -0.4, 0.2, 0.9, -0.3, 0.1, 0.4, -0.2, 0.5, -0.6],
    [0.1, 0.5, 1.22, -1.19, 0.2, 0.4, -0.3, 0.0, 0.5, -0.2, 0.2, 0.6, -0.4, 0.1, -0.2, 0.3, 0.7, -0.5, 0.2, 0.0,
     -0.3, 0.4, -0.2, 0.3, 0.1, -0.4, 0.2, 0.5, 1.23, -0.3, 0.2, -0.5, 0.3, 0.1, -0.2, 0.4, 0.0, -0.3, 0.6, -0.1,
     0.3, 0.1, -0.4, 0.5, -0.2, 0.2, -0.6, 0.4, 0.1, 0.3, -0.2, 0.4, -0.3, 0.2, 0.6, -0.1, 0.3, -0.8, 0.2, -0.6],
    [0.2, -0.3, 0.4, 0.1, -0.2, 0.3, -0.4, 0.2, 0.5, -0.1, 0.3, 0.0, -0.4, 0.2, 0.4, -0.2, 0.1, 0.3, -0.3, 0.2,
     0.0, 0.4, -0.2, 0.3, -0.5, 0.1, 0.2, 0.4, -0.1, 0.3, 0.2, -0.3, 0.1, 0.5, -0.2, 0.0, 0.3, -0.4, 0.2, 0.1,
     0.4, -0.1, 0.2, -0.3, 0.3, 0.1, -0.5, 0.2, 0.4, 0.0, -0.2, 0.3, 0.1, -0.4, 0.2, 0.5, -0.1, 0.3, -0.3, 0.2],
    [-0.4, 0.2, 0.5, -0.2, 0.1, -0.6, 0.3, 0.4, -0.1, 0.2, 0.0, -0.3, 0.4, 0.2, -0.5, 0.7, -0.2, 0.1, 0.3, -0.4,
     0.2, 0.5, -0.3, 0.0, -0.7, 0.4, 0.2, -0.2, 0.3, 0.6, -0.1, 0.3, -0.4, 0.2, 0.5, -0.3, 0.1, 0.4, -0.2, 0.0,
     -0.5, 0.2, 0.3, -0.1, 0.4, -0.3, 0.2, 0.6, -0.4, 0.1, 0.5, -0.2, 0.1, -0.4, 0.3, 0.7, -0.1, 0.2, -0.3, 0.4],
    [-0.3, 0.2, 0.0, 0.5, -0.1, 0.3, 0.2, -0.5, 0.1, 0.4, -0.2, 0.3, 0.1, -0.3, 0.5, 0.0, -0.2, 0.4, 0.2, -0.4,
     0.3, 0.1, -0.3, 0.2, 0.4, -0.1, 0.0, 0.3, -0.4, 0.2, 0.5, 0.1, -0.2, 0.3, 0.0, -0.4, 0.2, 0.4, -0.1, 0.3,
     -0.3, 0.2, 0.5, -0.2, 0.1, 0.3, 0.0, -0.3, 0.4, 0.1, 0.3, -0.2, 0.0, 0.4, -0.3, 0.2, 0.1, -0.2, 0.5, -0.1],
    [0.2, -0.1, -0.4, 0.3, 0.6, -0.2, 0.0, 0.3, -0.5, 0.4, -0.3, 0.1, 0.5, -0.2, 0.2, 0.4, -0.6, 0.3, -0.1, 0.2,
     0.6, -0.4, 0.1, 0.2, -0.2, 0.5, 0.3, -0.3, 0.0, 0.4, 0.2, -0.6, 0.3, 0.5, -0.1, 0.2, -0.4, 0.1, 0.3, -0.2,
     0.1, 0.4, -0.2, -0.5, 0.3, 0.2, -0.1, 0.5, -0.3, 0.8, -0.1, 0.3, -0.5, 0.2, 0.1, -0.3, 0.6, 0.2, -0.4, 0.1],
    [-0.2, 0.4, 0.1, -0.3, 0.5, 0.2, -0.4, 0.3, 0.0, -0.2, 0.3, -0.1, 0.2, 0.6, -0.3, 0.1, -0.5, 0.4, 0.2, -0.1,
     0.2, -1.2, 0.4, 1.2, -0.3, 0.1, 0.5, -0.2, -0.6, 0.3, 0.0, 0.4, -0.3, 0.2, 0.1, -0.4, 0.5, 0.3, -0.2, 0.1,
     0.6, -0.3, 0.2, 0.0, -0.5, 0.3, 0.7, -0.1, 0.4, -0.2, 0.3, 1.05, 0.2, -0.6, 0.4, 0.95, -0.3, 0.1, 0.5, -0.2],
    [0.5, 0.1, -0.2, 0.3, -0.4, 0.0, 0.4, 0.2, -0.3, 0.1, 0.2, -0.5, 0.3, 0.4, -0.1, 0.2, -0.3, 0.0, 0.5, 0.1,
     -0.2, 0.3, 0.2, -0.3, 0.1, 0.4, -0.2, 0.0, 0.3, -0.4, 0.1, 0.3, -0.1, 0.2, 0.4, -0.3, 0.1, -0.2, 0.3, 0.5,
     0.0, -0.3, 0.2, 0.1, -0.2, 0.4, 0.3, -0.4, 0.1, 0.2, 0.4, 0.0, -0.3, 0.2, 0.3, -0.2, 0.5, 0.1, -0.4, 0.3],
    [0.5, -0.3, 0.2, 0.0, -0.4, 0.3, 0.6, -0.1, 0.2, -0.5, 0.1, 0.3, -0.2, 0.4, 0.0, -0.6, 0.2, 0.5, -0.3, 0.1,
     -0.1, 0.4, 0.2, -0.5, 0.3, -0.2, 0.6, 0.1, -0.4, 0.2, 0.3, -0.1, 0.5, -0.3, 0.2, 0.7, -0.4, 0.1, 0.0, -0.3,
     0.2, 0.5, -0.6, 0.3, 0.1, -0.2, 0.4, 0.9, -0.3, 0.2, -0.4, 0.2, 0.6, -0.1, 0.3, -0.7, 0.2, 0.4, -0.5, 0.3],
    [-0.1, 0.3, 0.2, -0.4, 0.2, 0.5, -0.2, 0.1, 0.0, 0.3, -0.4, 0.1, 0.3, -0.2, 0.0, 0.4, 0.2, -0.3, 0.1, 0.5,
     0.2, -0.2, 0.4, 0.0, -0.3, 0.2, 0.5, -0.1, 0.1, -0.2, 0.3, 0.4, -0.3, 0.0, 0.2, 0.1, -0.5, 0.3, 0.4, -0.1,
     0.2, 0.0, -0.2, 0.3, 0.5, -0.3, 0.1, 0.2, -0.1, 0.4, -0.3, 0.1, 0.3, -0.1, 0.0, 0.4, -0.2, 0.3, 0.1, -0.4],
    [0.0, 0.3, -0.5, 0.4, 0.2, -0.1, 0.3, -0.4, 0.5, 0.1, -0.2, 0.4, 0.1, -0.3, 0.5, 0.2, -0.2, 0.1, 0.4, -0.5,
     0.3, 0.0, -0.4, 0.2, 0.6, -0.3, 0.1, 0.3, -0.1, 0.5, -0.3, 0.2, 0.1, -0.5, 0.4, 0.0, 0.3, -0.2, 0.6, -0.1,
     0.1, -0.4, 0.3, 0.2, -0.2, 0.5, -0.3, 0.1, 1.05, -0.2, 0.2, -0.3, 0.4, 0.1, -0.2, 0.3, 0.6, -0.4, 0.2, 0.0],
    [-0.3, 0.1, 0.4, -0.2, 0.3, 0.0, -0.5, 0.2, 0.6, -0.3, 0.2, -0.4, 0.3, 0.1, -0.1, 0.5, 0.2, -0.3, 0.0, 0.4,
     -0.2, 0.3, 0.5, -0.1, 0.2, -0.4, 0.1, 0.8, -0.3, 0.2, 0.1, 0.4, -0.2, 0.3, -0.5, 0.2, 0.0, 0.3, -0.2, 0.5,
     -0.1, 0.2, 0.3, -0.4, 0.1, 0.6, -0.2, 0.0, 0.3, -0.3, 0.4, -0.1, 0.2, -0.3, 0.5, 0.1, -0.4, 0.2, 0.3, -0.2],
    [0.3, 0.0, 0.4, -0.2, 0.1, -0.3, 0.3, 0.5, -0.2, 0.0, 0.4, 0.2, -0.1, 0.3, -0.4, 0.1, 0.3, 0.0, -0.2, 0.4,
     -0.1, 0.2, 0.0, 0.4, 0.2, -0.3, 0.3, 0.1, -0.2, 0.5, 0.0, -0.2, 0.3, 0.1, -0.3, 0.4, 0.2, 0.0, -0.4, 0.3,
     0.1, 0.4, -0.1, 0.2, 0.0, -0.3, 0.4, 0.1, -0.2, 0.3, 0.2, -0.4, 0.1, 0.3, 0.0, -0.1, 0.4, -0.3, 0.2, 0.1],
    [0.4, 0.1, -0.3, 0.2, -0.1, 0.5, 0.0, -0.4, 0.3, 0.2, -0.2, 0.3, 0.1, -0.5, 0.4, -0.1, 0.2, 0.6, -0.3, 0.0,
     0.1, -0.3, 0.4, 0.2, -0.2, 0.3, -0.5, 0.1, 0.4, 0.8, -0.3, 0.2, 0.0, 0.4, -0.4, 0.1, 0.3, -0.2, 0.5, 0.0,
     0.3, -0.2, 0.1, 0.5, -0.3, 0.2, 0.0, -0.4, 0.2, 0.6, -0.2, 0.3, -0.1, 0.4, 0.2, -0.5, 0.1, 0.3, -0.3, 0.2],
    [-0.8, -0.85, -0.3, 0.2, 0.5, 0.1, 1.15, 0.7, 0.2, -0.3, 0.3, -0.2, -1.23, 0.4, 0.1, -0.3, 0.5, 0.0, -0.4, 0.2,
     0.6, -0.1, 0.3, -0.5, 0.2, 0.4, -0.2, 0.1, 0.3, -0.4, 0.2, 0.0, 0.5, -0.3, 0.1, -0.2, 0.4, 0.2, -0.5, 0.3,
     -0.1, 0.4, -0.2, 0.3, 0.0, -0.6, 0.2, 0.5, -0.1, 0.2, 0.3, -0.4, 0.1, 0.2, -0.2, 0.6, -0.3, 0.4, 0.0, -0.1],
    [0.0, -0.4, 0.2, 0.3, -0.1, 0.4, 0.1, -0.3, 0.2, 0.0, 0.3, -0.1, 0.5, 0.0, -0.3, 0.2, 0.4, -0.2, 0.1, 0.3,
     -0.4, 0.0, 0.3, 0.1, 0.2, -0.2, 0.4, 0.0, -0.3, 0.1, 0.3, 0.2, -0.4, 0.1, 0.3, -0.1, 0.2, 0.5, -0.3, 0.0,
     0.2, -0.1, 0.3, -0.4, 0.2, 0.1, 0.4, -0.2, 0.0, 0.3, -0.1, 0.2, 0.4, -0.3, 0.1, 0.3, 0.0, -0.4, 0.2, 0.3],
    [0.2, -0.2, 0.4, 0.0, -0.5, 0.3, 0.1, -0.3, 0.5, 0.2, -0.4, 0.2, 0.5, -0.1, 0.3, -0.3, 0.0, 0.4, 0.2, -0.6,
     0.1, 0.3, -0.2, 0.6, -0.1, 0.2, -0.4, 0.3, 0.0, 0.2, -0.5, 0.1, 0.4, -0.2, 0.3, 0.0, -0.3, 0.5, 0.1, -0.2,
     0.4, -0.2, 0.1, 0.3, -0.4, 0.2, 0.5, -0.1, 0.0, 0.3, -0.3, 0.2, 0.4, -0.2, 0.1, -0.5, 0.3, 0.2, -0.1, 0.4],
    [-0.1, 0.4, -0.2, 0.3, 0.1, -0.4, 0.2, 0.5, -0.3, 0.0, 0.3, 0.1, -0.3, 0.2, 0.6, -0.2, 0.4, 0.55, 0.6, -0.1,
     -0.2, 0.3, 0.1, -0.4, 0.5, 0.0, 0.2, -0.3, 0.4, 0.1, 0.2, -0.3, 0.3, 0.1, -0.2, 0.4, -0.1, 0.2, 0.3, -0.5,
     0.0, 0.3, -0.2, 0.4, 0.2, -0.3, 0.1, 0.5, -0.2, 0.3, 0.1, -0.2, 0.5, 0.0, -0.4, 0.3, 0.2, -0.1, 0.4, -0.3],
    [0.4, -0.1, 0.0, 0.2, 0.5, -0.3, 0.2, 0.0, 0.3, -0.2, 0.1, 0.4, -0.3, 0.0, 0.2, 0.3, -0.1, 0.4, -0.4, 0.1,
     0.2, 0.3, -0.1, 0.0, 0.4, -0.2, 0.1, 0.3, 0.2, -0.3, 0.0, 0.2, 0.4, -0.2, 0.1, 0.3, -0.3, 0.0, 0.2, 0.4,
     -0.2, 0.3, 0.0, 0.1, -0.4, 0.2, 0.3, 0.0, 0.2, -0.1, 0.5, 0.1, -0.2, 0.0, 0.3, 0.2, -0.3, 0.4, 0.0, -0.2],
    [0.3, -0.3, 0.1, 0.5, -0.2, 0.2, 0.0, -0.4, 0.3, 0.6, -0.1, 0.2, 0.4, -0.5, 0.1, 0.3, -0.2, 0.5, 0.0, -0.3,
     0.4, 0.1, -0.2, 0.3, -0.6, 0.2, 0.5, -0.1, 0.2, 0.0, -0.2, 0.4, 0.1, -0.3, 0.6, 0.2, -0.1, 0.3, -0.4, 0.2,
     0.3, 0.0, -0.3, 0.2, 0.5, -0.2, 0.1, -0.5, 0.4, 0.1, -0.2, 0.5, 0.1, -0.3, 0.2, 0.4, -0.1, 0.0, 0.3, -0.4],
    [0.1, 0.5, -0.2, 0.2, 0.4, -0.3, 0.0, 0.3, -0.5, 0.2, 0.4, -0.2, 0.1, 0.3, -0.4, 0.5, 0.2, -0.1, 0.3, 0.0,
     -0.3, 0.2, 0.4, -0.2, 0.1, 0.6, -0.3, 0.2, 0.0, 0.4, -0.2, 0.3, 0.1, 1.42, -1.25, 0.3, 0.5, -0.2, 0.1, 0.2,
     0.2, -0.4, 0.3, 0.1, -0.2, 0.4, 0.0, 0.3, -0.5, 0.2, 0.1, -0.3, 0.2, 0.4, -1.17, 0.3, 0.1, -0.2, 0.5, 0.0],
    [-0.5, 0.2, 0.4, -0.3, 0.0, 0.5, -0.6, 0.3, 0.1, -0.4, -0.1, 0.3, -0.5, 0.2, 0.6, -0.3, 0.0, -0.6, 0.4, 0.1,
     0.3, -0.5, 0.2, 0.5, -0.2, -0.6, 0.3, 0.1, -0.4, 0.4, -0.3, 0.2, -0.5, 0.6, 0.0, -0.4, 0.3, -0.2, 0.5, -0.6,
     0.2, -0.4, 0.3, 0.0, -0.5, 0.4, 0.1, -0.3, 0.6, -0.2, 0.0, 0.4, -0.6, 0.2, -0.3, 0.5, -0.1, -0.5, 0.3, 0.2],
    [-0.2, 0.3, 0.6, -0.1, 0.2, -0.4, 0.3, 0.1, 0.5, -0.3, 0.0, 0.4, -0.2, 0.1, 0.3, -0.5, 0.2, 0.4, -0.1, 0.3,
     0.2, -0.3, 0.0, 0.5, 0.2, -0.2, 0.3, -0.4, 0.1, 0.6, 0.3, -0.1, 0.2, -0.3, 0.4, 0.0, 0.2, -0.6, 0.3, 0.1,
     -0.3, 0.2, 0.5, -0.2, 0.1, 0.3, -0.4, 0.2, 0.0, 0.4, 0.2, -0.1, 0.3, -0.5, 0.2, 0.1, 0.4, -0.2, 0.3, 0.0],
    [0.1, -0.4, 0.3, -0.6, 0.2, 0.4, -0.3, 0.0, 0.5, -0.5, 0.2, -0.2, 0.6, -0.4, 0.0, 0.3, -0.6, 0.2, 0.4, -0.3,
     -0.5, 0.3, 0.1, -0.4, 0.5, -0.2, 0.0, 0.4, -0.6, 0.2, 0.3, -0.5, 0.2, 0.0, 0.4, -0.7, 0.1, 0.3, -0.3, 0.5,
     -0.2, 0.0, 0.5, -0.6, 0.2, 0.3, -0.4, 0.1, -0.2, 0.4, -0.5, 0.2, 0.3, -0.3, 0.6, -0.4, 0.0, 0.3, -0.6, 0.2],
    [0.3, 0.0, -0.3, 0.5, 0.2, 1.28, -0.4, 0.1, 0.6, -0.2, 0.2, -0.3, 0.4, 0.1, 1.1, -0.4, 0.2, 0.0, -0.3, 0.5,
     -0.1, 0.3, 0.2, -0.5, 0.4, 0.1, -0.2, 0.3, 0.5, -0.3, 0.1, 0.4, -0.2, 0.2, -0.4, 0.3, 0.7, -0.1, 0.2, 0.0,
     0.4, -0.2, 0.3, 0.0, -1.1, 0.2, 0.5, -0.3, 0.1, 0.3, -0.2, 0.3, 0.0, 0.5, 0.2, -0.3, 0.6, 1.13, -0.1, 0.3],
    [-0.3, 0.4, -0.2, 0.0, 0.5, -0.6, 0.2, 0.3, -0.4, 0.1, 0.5, -0.3, -0.6, 0.2, 0.4, 0.0, -0.3, 0.5, -0.2, -0.5,
     0.3, 0.1, -0.4, 0.6, -0.2, 0.0, 0.4, -0.5, 0.2, -0.3, 0.5, 0.0, -0.6, 0.3, 0.2, -0.4, 0.1, 0.5, -0.3, -0.2,
     0.4, -0.6, 0.2, 0.0, 0.3, -0.5, 0.6, -0.2, 0.1, -0.4, 0.3, -0.3, 0.5, -0.1, -0.5, 0.4, 0.0, -0.3, 0.6, -0.4],
    [-0.1, 0.4, 0.2, -0.3, 0.5, 0.0, 0.3, -0.2, 0.1, 0.4, -0.4, 0.2, 0.5, -0.1, 0.3, 0.1, -0.5, 0.4, 0.2, -0.2,
     0.3, 0.0, -0.3, 0.6, 0.1, -0.2, 0.4, 0.2, -0.4, 0.1, 0.5, -0.2, 0.2, 0.4, -0.3, 0.1, 0.3, 0.55, -0.2, 0.3,
     0.0, 0.3, -0.4, 0.2, 0.6, -0.1, 0.3, 0.0, -0.3, 0.4, 0.3, -0.2, 0.5, 0.1, -0.3, 0.2, 0.4, -0.1, 0.2, 0.5],
    [0.2, -0.2, 0.9, 0.3, -0.3, 0.5, 0.1, -1.15, 0.4, 0.0, 0.3, -0.1, 0.6, 0.2, -0.4, 0.1, 0.5, -0.2, 0.3, 0.0,
     -0.3, 0.4, 0.1, 0.6, -0.2, 0.3, 0.0, -0.4, 0.5, 0.2, 0.0, -0.3, 0.4, 0.2, 0.6, -0.2, 0.1, 0.3, -0.5, 0.2,
     0.4, 0.1, -0.2, 0.3, -0.1, 0.5, 0.2, -0.3, 0.1, 0.0, 0.2, 0.4, -0.3, 0.1, 0.5, -0.2, 0.3, 0.0, 0.4, -0.1],
    [0.4, -0.2, 0.0, -0.5, 0.3, 0.5, -0.4, 0.1, -0.3, 0.6, -0.2, 0.3, -0.6, 0.0, 0.4, -0.3, 0.2, 0.5, -0.5, 0.1,
     -0.4, 0.6, 0.0, -0.3, 0.3, -0.6, 0.2, 0.4, -0.2, 0.0, 0.5, -0.4, 0.3, -0.1, -0.5, 0.4, 0.2, -0.6, 0.3, 0.1,
     -0.3, 0.5, -0.2, 0.0, -0.6, 0.4, 0.2, -0.4, 0.5, -0.1, 0.2, -0.5, 0.4, 0.0, -0.3, 0.6, -0.2, 0.1, -0.5, 0.3],
    [0.1, 0.6, -0.2, 0.4, 0.0, -0.3, 0.5, 0.2, -0.1, 0.3, -0.2, 0.3, 0.5, -0.4, 0.2, 0.7, 0.0, -0.3, 0.4, 0.1,
     0.3, -0.2, 0.1, 0.4, -0.5, 0.2, 0.3, 0.0, -0.2, 0.5, 0.2, 0.4, -0.1, 0.3, 0.0, -0.3, 0.6, 0.2, -0.1, 0.3,
     -0.1, 0.2, 0.4, -0.2, 0.5, 0.1, -0.3, 0.3, 0.0, 0.4, 0.5, 0.0, -0.2, 0.3, 0.1, 0.6, -0.3, 0.2, 0.4, 0.0],
    [-0.2, 0.3, 0.1, -0.4, 0.5, 0.0, -0.5, 0.4, -0.1, 0.2, 0.3, -0.6, 0.2, 0.4, -0.2, -0.4, 0.5, 0.0, 0.3, -0.5,
     0.1, 0.4, -0.3, 0.0, 0.6, -0.4, -0.1, 0.3, 0.2, -0.6, 0.4, 0.0, -0.3, 0.5, -0.2, 0.1, -0.5, 0.3, 0.4, -0.2,
     -0.4, 0.2, 0.5, -0.3, 0.0, 0.3, -0.6, 0.4, -0.1, 0.2, 0.5, -0.4, 0.0, 0.3, -0.2, -0.5, 0.4, 0.2, -0.3, 0.5],
    [0.3, -0.1, 0.4, 0.1, -0.2, 0.3, 0.0, 0.5, -0.3, 0.2, 0.1, 0.4, -0.2, 0.3, 0.0, -0.1, 0.3, 0.2, -0.4, 0.3,
     0.4, 0.1, -0.3, 0.2, 0.5, 0.0, 0.2, -0.2, 0.3, 0.1, -0.2, 0.3, 0.1, 0.4, -0.1, 0.2, 0.0, 0.3, 0.2, -0.3,
     0.2, 0.0, 0.3, -0.2, 0.1, 0.4, 0.2, -0.1, 0.3, 0.2, 0.0, 0.3, 0.1, -0.2, 0.4, 0.2, -0.1, 0.3, 0.0, 0.2],
    [0.3, -0.5, 0.2, 0.4, -0.3, 0.1, 0.5, -0.4, 0.0, -0.2, 0.4, 0.2, -0.5, 0.3, -0.1, 0.6, -0.3, -0.2, 0.4, 0.0,
     -0.5, 0.3, 0.5, -0.2, 0.1, -0.4, 0.6, 0.0, -0.3, 0.2, -0.1, 0.4, -0.6, 0.2, 0.3, -0.2, 0.0, 0.5, -0.4, 0.3,
     0.1, -0.3, 0.4, -0.5, 0.2, 0.0, 0.5, -0.3, 0.2, -0.6, 0.4, 0.1, -0.2, 0.5, -0.4, 0.0, 0.3, -0.5, 0.2, 0.4],
    [0.2, 0.5, -0.3, 0.4, -1.02, 0.2, 0.6, 0.0, 0.3, -0.2, 0.4, 0.1, -0.3, 0.3, 0.1, 0.5, -0.2, 0.3, 0.2, -0.4,
     0.2, 0.4, 0.0, -0.3, 0.5, 0.2, 0.1, 0.4, -1.22, 0.3, 0.1, -0.2, 0.3, 0.2, -0.4, 0.5, 0.0, 0.3, -0.2, 0.4,
     0.2, -0.3, 0.4, 0.1, -0.2, 0.3, 0.5, 0.0, -0.3, 0.2, 0.3, -0.1, 0.2, 0.4, -0.3, 0.1, 0.3, -0.2, 0.2, 0.9],
    [0.1, 0.2, 0.0, 0.3, 0.1, -0.2, 0.2, 0.1, -0.1, 0.3, 0.0, 0.2, -0.1, 0.1, 0.3, 0.0, -0.2, 0.1, 0.2, 0.0,
     -0.1, 0.2, 0.3, 0.1, -0.2, 0.0, 0.2, 0.1, -0.1, 0.2, 0.0, 0.3, 0.1, -0.2, 0.1, 0.2, 0.0, -0.1, 0.2, 0.1,
     -0.2, 0.1, 0.3, 0.0, 0.2, -0.1, 0.3, 0.1, 0.4, 1.62, 0.2, 0.0, -0.4, 0.1, 0.2, -0.2, 0.3, 0.0, -0.3, 0.1],
    [-0.1, 0.4, -0.3, 0.2, 0.0, 0.5, -0.2, -0.4, 0.3, 0.1, -0.3, 0.5, 0.0, -0.2, 0.4, -0.5, 0.2, 0.3, -0.1, 0.4,
     0.0, -0.4, 0.3, 0.2, -0.3, 0.5, -0.1, 0.0, 0.4, -0.5, 0.2, 0.3, -0.2, 0.0, 0.5, -0.3, 0.2, -0.4, 0.1, 0.3,
     -0.5, 0.4, 0.0, 0.2, -0.3, 0.5, -0.1, 0.3, -0.4, 0.0, 0.3, -0.2, 0.5, -0.4, 0.1, 0.2, -0.3, 0.4, 0.0, -0.2],
]

panel_tags = ['(a)', '(b)', '(c)', '(d)', '(e)', '(f)']
spread_labels = ['0.89', '0.34', '0.24', '0.20', '0.36', '0.38']
column_titles = ['CORE-II', 'CMIP5']

# ---- figure layout (pixel boxes on a 1147 x 967 canvas) ----
W, H = 1147, 967
fig = plt.figure(figsize=(W / 100, H / 100), dpi=100)
col_x = [(90, 473), (594, 472)]
row_y = [(44, 327), (327, 610), (610, 892)]

panels = [
    (core_years_a, core_a, 0, 0), (cmip_years_b, cmip_b, 0, 1),
    (core_years_c, core_c, 1, 0), (cmip_years_d, cmip_d, 1, 1),
    (core_years_e, core_e, 2, 0), (cmip_years_f, cmip_f, 2, 1),
]

for k, (years, lines, row, col) in enumerate(panels):
    x0, w = col_x[col]
    top, bot = row_y[row]
    ax = fig.add_axes([x0 / W, 1 - bot / H, w / W, (bot - top) / H])

    # CORE-II runs red at the top end, CMIP5 goes on to dark red
    cmap_end = 0.9 if col == 0 else 1.0
    colors = plt.cm.jet(np.linspace(0.08, cmap_end, len(lines)))
    for vals, c in zip(lines, colors):
        ax.plot(years, vals, color=c, lw=1.15, solid_joinstyle='round')

    ax.set_xlim((1948, 2007) if col == 0 else (1946, 2005))
    ax.set_ylim(-2, 3)
    ax.set_yticks([-2, -1, 0, 1, 2, 3])
    ax.set_yticklabels(['', '-1', '0', '1', '2', ''])
    ax.set_xticks(range(1950, 2001, 10))
    ax.tick_params(axis='y', direction='out', length=9, width=1.0,
                   left=True, right=True, labelleft=(col == 0),
                   labelright=(col == 1), labelsize=14, pad=4)
    ax.tick_params(axis='x', direction='out', length=9, width=1.0,
                   top=(row == 0), bottom=(row == 2), labeltop=False,
                   labelbottom=(row == 2), labelsize=14, pad=6)
    for sp in ax.spines.values():
        sp.set_linewidth(1.0)

    ax.text(0.023, 0.898, panel_tags[k], transform=ax.transAxes,
            fontsize=16, fontweight='bold', va='center', ha='left')
    ax.text(0.421, 0.695, spread_labels[k], transform=ax.transAxes,
            fontsize=14, va='center', ha='center')

    if row == 2:
        ax.set_xlabel('Time, year', fontsize=17, labelpad=4)
    if row == 0:
        ax.set_title(column_titles[col], fontsize=15, fontweight='bold', pad=12)

fig.text(30 / W, 1 - 468 / H, 'AMOC variability, Sv', rotation=90,
         fontsize=17, ha='center', va='center')
fig.text(1133 / W, 1 - 468 / H, 'AMOC variability, Sv', rotation=90,
         fontsize=17, ha='center', va='center')

fig.savefig('out.png', dpi=100)
